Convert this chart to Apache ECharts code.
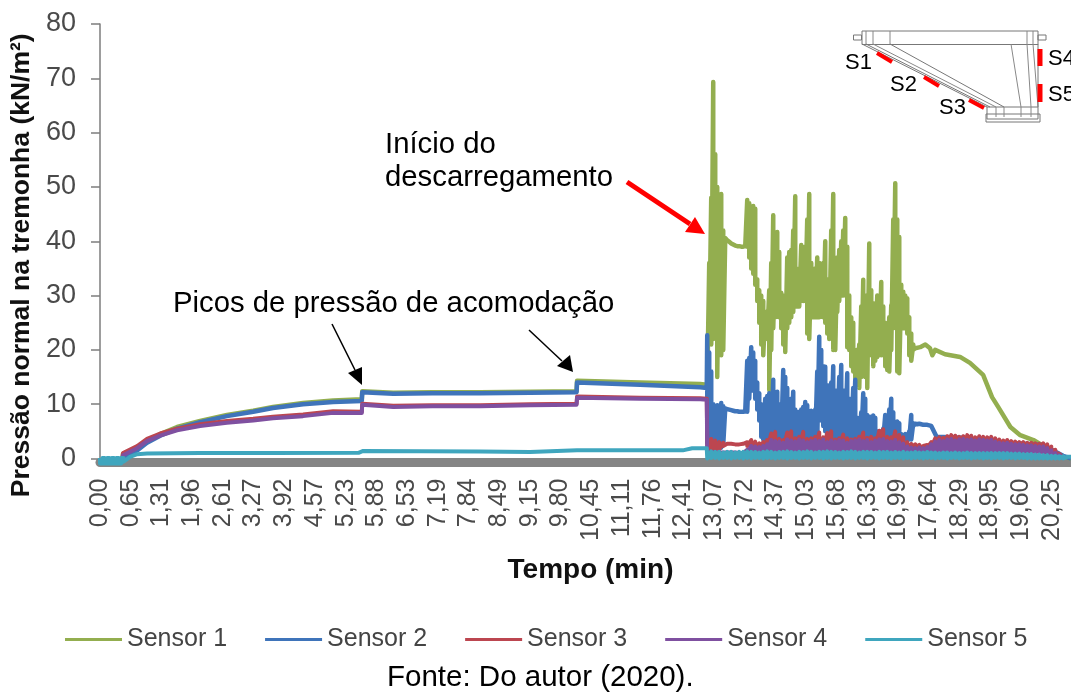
<!DOCTYPE html>
<html><head><meta charset="utf-8">
<style>html,body{margin:0;padding:0;background:#fff}#c{width:1071px;height:693px}</style>
<script src="https://cdn.jsdelivr.net/npm/echarts@6/dist/echarts.min.js"></script>
</head><body><div id="c"></div>
<script>
const timeLabels = ['0,00','0,65','1,31','1,96','2,61','3,27','3,92','4,57','5,23','5,88','6,53','7,19','7,84','8,49','9,15','9,80','10,45','11,11','11,76','12,41','13,07','13,72','14,37','15,03','15,68','16,33','16,99','17,64','18,29','18,95','19,60','20,25'];
const sensorNames = ['Sensor 1','Sensor 2','Sensor 3','Sensor 4','Sensor 5'];

// Filling phase (minutes, kN/m2)
const fillTimes = [0,.47,.49,.79,1,1.28,1.64,2.13,2.7,3.26,3.68,4.32,4.96,5.57,5.58,6.24,7.07,8.09,9.15,10.14,10.15,11.49,12.77,12.91];
const fillS1 = [-.4,-.4,.9,1.8,3.1,4.5,5.8,6.9,8,8.8,9.5,10.2,10.7,10.9,12.4,12.1,12.2,12.2,12.3,12.4,14.3,14,13.7,13.6];
const fillS2 = [-.5,-.5,.1,1.5,2.9,4.2,5.5,6.7,7.8,8.6,9.3,10,10.4,10.6,12.2,11.9,12,12,12.1,12.2,14,13.6,13.1,13];
const fillS3 = [-.4,-.4,1,2.3,3.6,4.6,5.5,6.3,6.9,7.3,7.7,8.1,8.7,8.6,10.1,9.7,9.8,9.8,10,10.1,11.4,11.2,11.1,11];
const fillS4 = [-.5,-.5,.6,1.9,3.2,4.2,5.2,6,6.6,7,7.4,7.8,8.4,8.4,9.9,9.5,9.6,9.6,9.8,9.9,11.2,11,10.9,10.8];
const fillS5Times = [0,0,.05,.05,.1,.1,.15,.15,.2,.2,.25,.25,.3,.3,.35,.35,.4,.4,.45,.45,.5,.5,.64,.79,1,2.13,3.68,5.5,5.6,8.09,9.15,10.15,12.4,12.6,12.91];
const fillS5 = [.1,-.9,-.9,.1,.1,-.9,-.9,.1,.1,-.9,-.9,.1,.1,-.9,-.9,.1,.1,-.9,-.9,.1,.1,-.6,.3,.8,.9,1,1,1.05,1.4,1.3,1.2,1.5,1.5,1.9,1.9];

// Discharge phase: top and bottom of the oscillation band per time column
const dischargeStart = 12.92, fineStep = 0.04256, coarseStep = 0.08512;
const s1High = [14,36,48,69.3,56,50,44,48.7,42,40.6,
 40.2,39.9,39.6,39.4,39.2,39.1,39.1,39,39,39.1,
 47.6,47,45,46.5,46,33,31,30,29,27,
 27,31,36,44.8,37,41.7,38,30.5,30,28,
 37,38,38.4,42,48.3,33.4,35,39.3,38,39,
 44,48.7,36,34.7,35,37,36,35,36,40,
 33,32,42,48.7,36,37,38.4,40,42,44.3,
 39,30,26,25,18,20,21,28,32.9,30,
 28,39.6,31,28.6,27,30,29,32.5,28,25,
 24.2,26,28.2,44,50.7,44,40.8,32,30.7,30,
 29.5,26,23,21,20.3];
const s1Low = [13,22,21,22,24,15,19,19,20,40.6,
 40.2,39.9,39.6,39.4,39.2,39.1,39.1,39,39,39.1,
 39,37,35,34,32,29,25,21,19,22,
 22,12.6,20,24,26,28,26,24,21,19.6,
 24,25,26,27,28,28,28,29,29,29,
 23,22,26,26,26,26,26,27,26,25,
 23,22,24,20,20,27,29,30,30,30,
 20.5,20,17,16,14.8,14,13,15,16,15,
 13,20,19,17,18,18.7,19,19,19,17,
 16.3,16,20,24,26,16,15.7,24,24,24,
 23,19,18,20,20];
const s1TailTimes = [17.34,17.45,17.56,17.66,17.71,17.77,17.98,18.3,18.51,18.79,18.98,19.11,19.37,19.58,19.86,20.15,20.49,20.66];
const s1TailValues = [20.3,20.5,21,20.3,19,20,19.2,18.7,17.6,15.4,11.3,9.5,5.8,4.3,3.4,1.9,.3,0];

const s2High = [22.7,19.5,16,10,9.4,9.8,9.4,10.2,9.6,9.2,
 9.1,9,8.9,8.8,8.7,8.7,8.6,8.6,8.6,8.7,
 18,18.5,20.5,19.5,18,14,12,10,9.5,11,
 11.5,12,11.7,14.5,10,12.3,10,9.5,16.3,15,
 13,10.5,11,12.3,9,8.4,8.6,9,9.5,10.4,
 9.8,8.6,8.8,8.6,9,16,22.4,20,17,16.9,
 13.5,12,14,17,12.5,9.5,15,17.2,12.5,10.5,
 15.7,11,9,13,14.5,7.5,7,8.5,12,11,
 8,7.7,7.7,7.9,7.5,5,4.7,5,5.5,8,
 7.7,9,11,8.5,4.7,6.8,6.5,4.5,4,4.5,
 4.3,5,8,6.5,6.4,6.3,6.4,6.3,6.2,6.2,
 6.2,6.1,6];
const s2Low = [3,2,2,2,2,2,2,2,2.5,9.2,
 9.1,9,8.9,8.8,8.7,8.7,8.6,8.6,8.6,8.7,
 8.6,11,13,12.5,11,9,7,4,3.5,3.5,
 3.5,3.5,3.5,3.5,3.5,3.5,3.5,3.5,3.5,3.5,
 3.5,3.5,3.5,3.5,3.5,3.5,3.5,3.5,3.5,3.5,
 3.5,3.5,3.5,3.5,3.5,3.5,8,7,6,5,
 4,3.5,3.5,3.5,3.5,3.5,3.5,3.5,3.5,3.5,
 3.5,3.5,3.5,3.5,3.5,3.5,3.5,3.5,3.5,3.5,
 3.5,3.5,3.5,3.5,3.5,3.5,3.5,3.5,3.5,3.5,
 3.5,3.5,3.5,3.5,3.5,3.5,3.5,3.5,3.5,3.5,
 3.5,3.5,3.5,6,6.2,6.3,6.4,6.3,6.2,6.2,
 6.2,6.1,6];
const s2TailTimes = [17.8,18.37,19.2,20.06,20.49,20.66];
const s2TailValues = [4,3.8,3,2.5,.5,0];

const s3High = [3.2,3.6,3.3,3,2.9,2.7,2.7,2.6,2.6,2.7,
 3,3.4,3.1,2.8,3,3.4,4.6,4.9,3.6,3.4,
 4.8,5,3.7,4,4.9,3.6,3.7,4,4.8,3.9,
 4.7,5,3.5,3.7,4.4,3.7,3.5,3.6,4,4.8,
 3.8,4,3.7,5.1,5.4,4,3.9,5,4.3,3.9,
 3,2.7,2.6,2.5,2.3,2.5,3,3.7,3.9,3.8,
 4.1,4.3,4.2,4,4.1,4.3,4.2,3.9,4.1,4,
 3.9,4,3.7,3.5,3.3,3.4,3.2,3.1,3,3,
 2.9,2.9,2.8,2.7,2.8,2.6,2.2,1.6,.9,.2];
const s3Low = [1.6,1.4,1.5,1.7,2.3,2.7,2.7,2.6,2.6,2.7,
 2.3,2,2,2,2,1.8,2,2,2,1.8,
 2,2,2,1.8,2,2,2,2,1.8,2,
 2,2,2,2,1.8,2,2,2,2,2,
 2,2,1.8,2,2,2,2,2,2,2,
 2,2,2,2,2,2,2,2,2,2,
 2,2,2,2,1.8,2,2,2,2,2,
 2,2,2,2,2,2,2,2,2,2,
 1.8,1.8,1.8,1.8,1.6,1.4,1.2,1,.6,.1];
const s4High = [1.3,1.2,1.2,1.1,1.1,1.1,1.1,1.1,1,1,
 1.6,2.3,2.2,2.1,2.3,2.6,3.4,3.2,3.1,2.9,
 3.5,3.3,3.1,3.5,3.3,3,3.2,3.4,3.2,3.5,
 3,3.3,3.1,3.4,3.3,2.9,3.2,3.3,3.5,3.2,
 3.4,3,3.3,3.5,3.6,3.2,3.1,3.4,3,2.7,
 2.2,2,1.9,2,1.9,2.1,2.6,3.1,3.4,3.2,
 3.5,3.6,3.3,3.5,3.6,3.4,3.5,3.3,3.5,3.4,
 3.3,3.4,3.1,2.9,2.8,2.9,2.7,2.6,2.6,2.5,
 2.4,2.4,2.3,2.2,2.2,1.9,1.5,1,.6,.1];
const s4Low = [1,1,1,1,1,1,1,1,1,1,
 1,1,1,1,1,1,1,1,1,1,
 1,1,1,1,1,1,1,1,1,1,
 1,1,1,1,1,1,1,1,1,1,
 1,1,1,1,1,1,1,1,1,1,
 1,1,1,1,1,1,1,1,1,1,
 1,1,1,1,1,1,1,1,1,1,
 1,1,1,1,1,1,1,1,1,1,
 1,1,1,1,.9,.8,.7,.5,.3,0];
const s5High = [1.9,1.3,1.2,1.2,1.1,1.2,1.2,1.1,1.2,1.2,
 1.3,1.2,1.2,1.1,1.2,1.3,1.2,1.1,1.2,1.2,
 1.3,1.2,1.1,1.2,1.2,1.3,1.2,1.1,1.2,1.2,
 1.3,1.2,1.2,1.1,1.2,1.2,1.3,1.2,1.1,1.2,
 1.2,1.2,1.1,1.2,1.2,1.2,1.1,1.2,1.1,1.2,
 1.1,1.1,1.2,1.1,1.1,1.2,1.1,1.1,1,1.1,
 1.1,1,1.1,1,1,1.1,1,1,1,1,
 1,1,1,1,1,1,.9,.9,.9,.8,
 .8,.8,.7,.7,.6,.6,.5,.5,.4,.4,.3,.3];
const s5Low = [0,.1,.1,0,.1,.1,0,.1,.1,0,
 .1,0,.1,.1,0,.1,.1,0,.1,.1,
 0,.1,.1,0,.1,.1,0,.1,.1,0,
 .1,0,.1,.1,0,.1,.1,0,.1,.1,
 0,.1,.1,0,.1,.1,0,.1,.1,0,
 .1,0,.1,.1,0,.1,.1,0,.1,.1,
 0,.1,.1,0,.1,.1,0,.1,.1,0,
 .1,0,.1,.1,0,.1,.1,0,.1,.1,
 0,0,0,0,0,0,0,0,0,0,0,0];

const zip = (t, v) => t.map((x, i) => [x, v[i]]);
const band = (step, hi, lo) => {
  const out = [];
  hi.forEach((h, i) => { const t = dischargeStart + i * step; out.push([t, h], [t, lo[i]]); });
  return out;
};
const seriesData = [
  zip(fillTimes, fillS1).concat(band(fineStep, s1High, s1Low), zip(s1TailTimes, s1TailValues)),
  zip(fillTimes, fillS2).concat(band(fineStep, s2High, s2Low), zip(s2TailTimes, s2TailValues)),
  zip(fillTimes, fillS3).concat(band(coarseStep, s3High, s3Low)),
  zip(fillTimes, fillS4).concat(band(coarseStep, s4High, s4Low)),
  zip(fillS5Times, fillS5).concat(band(coarseStep, s5High, s5Low))
];
const colors = ['#93AE4F','#3F74BA','#BC4650','#7F50A0','#3FA6BE'];
const lineWidths = [4.5,4.5,4,4,4];

const chart = echarts.init(document.getElementById('c'), null, {renderer:'canvas'});
const FONT = '"Liberation Sans", Arial, sans-serif';
const gray = '#7d7d7d';
const txt = (text, x, y, size, extra) => ({type:'text', z:20, style:Object.assign({text, x, y, font:size+'px '+FONT, fill:'#000', textVerticalAlign:'middle'}, extra||{})});
const ln = (x1,y1,x2,y2,stroke,lineWidth) => ({type:'line', z:19, shape:{x1,y1,x2,y2}, style:{stroke, lineWidth}});
const tri = (points, fill) => ({type:'polygon', z:19, shape:{points}, style:{fill}});
const rc = (x,y,width,height,extra) => ({type:'rect', z:18, shape:{x,y,width,height}, style:Object.assign({fill:'none', stroke:'#777', lineWidth:1}, extra||{})});
const diagram = [
  rc(862,31,176,13.5), rc(853.5,35,8,5), rc(1038,35,8,5),
  ln(866,31,866,44,'#888',1), ln(873,31,873,44,'#888',1), ln(890,31,890,44,'#888',1),
  ln(1027,31,1027,44,'#888',1), ln(1033,31,1033,44,'#888',1),
  ln(862,44,987,107,'#777',1), ln(866,44,990,107,'#777',1), ln(873,44,996,107,'#888',1), ln(890,44,1004,107,'#777',1),
  ln(1011,44,1021,107,'#888',1), ln(1027,44,1031,107,'#888',1), ln(1033,44,1038,107,'#888',1), ln(1038,44,1038,107,'#777',1),
  rc(987,107,51,12), ln(996,107,996,117,'#888',1), ln(1004,107,1004,117,'#888',1), ln(1021,107,1021,117,'#888',1), ln(1031,107,1031,117,'#888',1),
  rc(986,114,54,8),
  ln(877,53,892,62,'#f00',4), ln(924,77,939,86,'#f00',4), ln(969,100,984,108,'#f00',4),
  ln(1040,49,1040,66,'#f00',5), ln(1040,84,1040,102,'#f00',5),
  txt('S1',845,63,22), txt('S2',890,85,22), txt('S3',939,108,22), txt('S4',1048,59,22), txt('S5',1048,95,22)
];
chart.setOption({
  animation:false,
  color:colors,
  grid:{left:100, right:0, top:24, bottom:234.5, containLabel:false, outerBoundsMode:'none'},
  legend:{left:60, top:622, itemWidth:57, itemHeight:3, itemGap:38, icon:'rect',
    data:sensorNames, textStyle:{fontFamily:FONT, fontSize:25, color:'#444'}},
  xAxis:{type:'value', min:0, max:20.66, interval:0.6533, offset:4, splitLine:{show:false},
    axisLine:{show:true, onZero:false, lineStyle:{color:'#858585', width:9}}, axisTick:{show:false},
    axisLabel:{rotate:90, margin:16, showMaxLabel:false, fontFamily:FONT, fontSize:25, color:'#4a4a4a', hideOverlap:false,
      formatter:(v,i)=>timeLabels[i]||''},
    name:'Tempo (min)', nameLocation:'middle', nameGap:94,
    nameTextStyle:{fontFamily:FONT, fontWeight:'bold', fontSize:28, color:'#111', padding:[0,0,0,10]}},
  yAxis:{type:'value', min:0, max:80, interval:10, splitLine:{show:false},
    axisLine:{show:true, onZero:false, lineStyle:{color:gray, width:1.5}},
    axisTick:{show:true, length:9, lineStyle:{color:gray, width:1.5}},
    axisLabel:{margin:24, fontFamily:FONT, fontSize:27, color:'#4a4a4a'},
    name:'Pressão normal na tremonha (kN/m²)', nameLocation:'middle', nameGap:64, nameRotate:90,
    nameTextStyle:{fontFamily:FONT, fontWeight:'bold', fontSize:26.5, color:'#111', padding:[0,48,0,0]}},
  series:sensorNames.map((name,i)=>({name, type:'line', data:seriesData[i], symbol:'none', clip:false,
    lineStyle:{width:lineWidths[i], join:'round'}, z:3+i})),
  graphic:[].concat(diagram,[
    txt('Início do',385,145,29.3), txt('descarregamento',385,178,29.3),
    txt('Picos de pressão de acomodação',173,304,29.3),
    txt('Fonte: Do autor (2020).',387,678,29.5),
    ln(627,182,690,224,'#f00',5), tri([[705,234],[685,232],[695,217]],'#f00'),
    ln(332,324,355,370,'#000',1.5), tri([[362,385],[348,373],[362,367]],'#000'),
    ln(529,330,562,361,'#000',1.5), tri([[573,372],[557,366],[570,355]],'#000')
  ])
});
</script></body></html>
